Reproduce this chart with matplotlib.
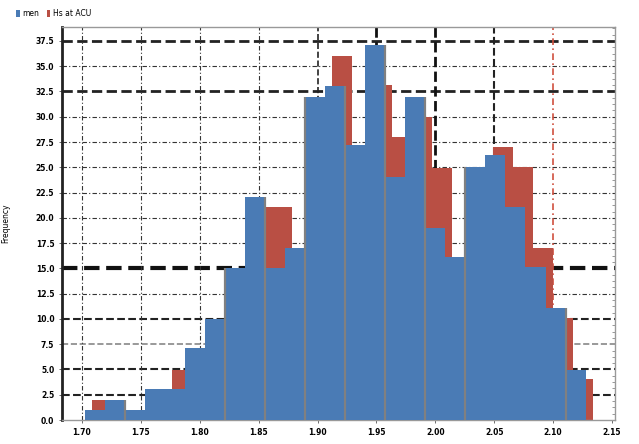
import matplotlib
matplotlib.use("Agg")
import matplotlib.pyplot as plt
from matplotlib.patches import Patch
import numpy as np

# Données
noms_series = ["men", "Hs at ACU"]
largeur_bin = 0.017
debut_bleu = 1.7025
debut_rouge = 1.7085

hauteurs_bleu = [1.0, 2.0, 1.0, 3.1, 3.1, 7.1, 10.0, 15.0, 22.1, 15.0, 17.0, 32.0, 33.0,
                 27.2, 37.1, 24.0, 32.0, 19.0, 16.1, 25.0, 26.2, 21.1, 15.1, 11.1, 4.9]
hauteurs_rouge = [2.0, 1.0, 1.0, 2.0, 4.9, 6.0, 9.0, 13.0, 21.1, 21.1, 16.0, 28.0, 36.0,
                  26.0, 33.1, 28.0, 30.0, 24.9, 15.0, 23.0, 27.0, 25.0, 17.0, 10.1, 4.1]

ticks_x = [1.70, 1.75, 1.80, 1.85, 1.90, 1.95, 2.00, 2.05, 2.10, 2.15]
ticks_y = np.arange(0, 37.6, 2.5)

BLEU = "#4a7bb5"
ROUGE = "#b94f44"

bords_bleu = debut_bleu + largeur_bin * np.arange(len(hauteurs_bleu) + 1)
bords_rouge = debut_rouge + largeur_bin * np.arange(len(hauteurs_rouge) + 1)

fig = plt.figure(figsize=(6.39, 4.44), dpi=100)
ax = fig.add_axes([62/639, 24/444, 553/639, 393/444])

# Grille horizontale, un style par ligne
styles_h = [None,
            ("--", 1.5, "#222222"), ("--", 1.5, "#222222"), ("--", 1.2, "#888888"),
            ("--", 1.5, "#222222"), ((0, (4, 2, 1, 2)), 0.8, "#333333"), ("--", 3.0, "#111111"),
            ((0, (4, 2, 1, 2)), 0.8, "#333333"), ((0, (4, 2, 1, 2)), 0.8, "#333333"),
            ((0, (4, 2, 1, 2)), 0.8, "#333333"), ((0, (4, 2, 1, 2)), 0.8, "#333333"),
            ((0, (4, 2, 1, 2)), 0.8, "#333333"), ((0, (4, 2, 1, 2)), 0.8, "#333333"),
            ("--", 2.0, "#222222"), ((0, (4, 2, 1, 2)), 0.8, "#333333"), ("--", 2.0, "#222222")]
for y, st in zip(ticks_y, styles_h):
    if st is None:
        continue
    ax.axhline(y, linestyle=st[0], linewidth=st[1], color=st[2], zorder=1)

styles_v = [((0, (4, 2, 1, 2)), 0.8, "#333333"), ((0, (4, 2, 1, 2)), 0.8, "#333333"),
            ((0, (4, 2, 1, 2)), 0.8, "#333333"), ((0, (4, 2, 1, 2)), 0.8, "#333333"),
            ("--", 1.2, "#222222"), ("--", 2.0, "#111111"), ("--", 2.0, "#111111"),
            ("--", 1.5, "#222222"), ((0, (4, 2, 1, 2)), 1.2, "#d05040"), None]
for x, st in zip(ticks_x, styles_v):
    if st is None:
        continue
    ax.axvline(x, linestyle=st[0], linewidth=st[1], color=st[2], zorder=1)

# Histogrammes : rouge derrière, bleu devant
ax.bar(bords_rouge[:-1], hauteurs_rouge, width=largeur_bin, align="edge",
       color=ROUGE, edgecolor="none", zorder=2)
ax.bar(bords_bleu[:-1], hauteurs_bleu, width=largeur_bin, align="edge",
       color=BLEU, edgecolor="none", zorder=3)

# séparateurs gris entre certaines barres bleues
sep_idx = [2, 7, 9, 11, 13, 15, 17, 19, 24]
for i in sep_idx:
    h = max(hauteurs_bleu[i-1], hauteurs_bleu[i] if i < len(hauteurs_bleu) else 0)
    ax.vlines(bords_bleu[i], 0, h, color="#808080", linewidth=1.6, zorder=4)

ax.set_xlim(1.683, 2.1525)
ax.set_ylim(0, 38.88)
ax.set_xticks(ticks_x)
ax.set_xticklabels([f"{v:.2f}" for v in ticks_x], fontsize=5.5, fontweight="bold")
ax.set_yticks(ticks_y)
ax.set_yticklabels([f"{v:.1f}" for v in ticks_y], fontsize=5.5, fontweight="bold")
ax.tick_params(axis="both", length=2.5, width=0.6, color="#555555", pad=3)

ax.yaxis.set_minor_locator(matplotlib.ticker.MultipleLocator(0.625))
ax.tick_params(axis="y", which="minor", left=False, right=True, direction="in",
               length=2, color="#888888")

for cote in ["top", "right", "bottom"]:
    ax.spines[cote].set_color("#999999")
    ax.spines[cote].set_linewidth(1.0)
ax.spines["left"].set_color("#222222")
ax.spines["left"].set_linewidth(2.0)

ax.set_ylabel("Frequency", fontsize=5.5)
ax.yaxis.set_label_coords(-0.094, 0.5)

poignees = [Patch(facecolor=BLEU), Patch(facecolor=ROUGE)]
fig.legend(poignees, noms_series, loc="upper left", bbox_to_anchor=(0.015, 0.995),
           ncol=2, frameon=False, fontsize=5.5, handlelength=0.4, handleheight=1.2,
           columnspacing=1.0, handletextpad=0.4)

fig.savefig("out.png", dpi=100)
